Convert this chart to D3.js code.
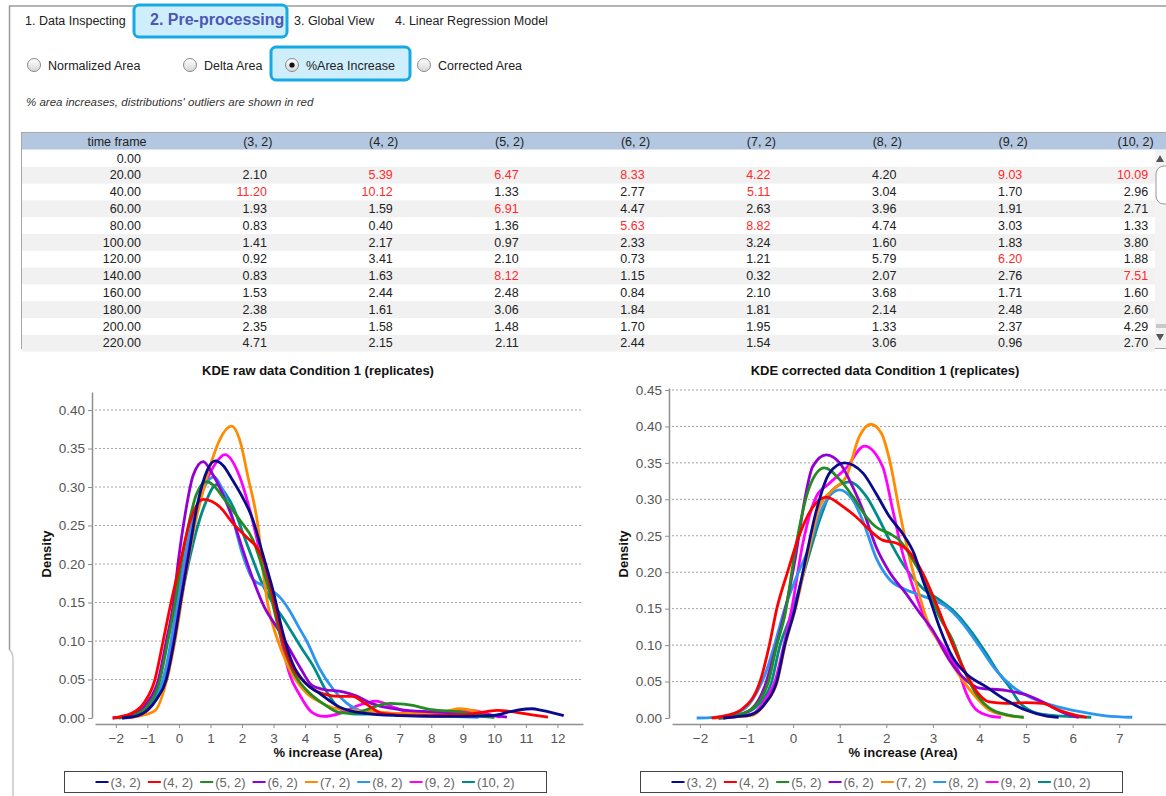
<!DOCTYPE html>
<html lang="en">
<head>
<meta charset="utf-8">
<title>KDE Condition 1 (replicates)</title>
<script src="https://d3js.org/d3.v7.min.js"></script>
<style>
  body { margin: 0; background: #fff; }
  text { font-family: "Liberation Sans", Arial, sans-serif; }
</style>
</head>
<body>
<script>

// ---- data ----

const tabLabels = ["1. Data Inspecting", "2. Pre-processing", "3. Global View", "4. Linear Regression Model"];
const radioLabels = ["Normalized Area", "Delta Area", "%Area Increase", "Corrected Area"];
const note = "% area increases, distributions' outliers are shown in red";

const replicates = ["(3, 2)", "(4, 2)", "(5, 2)", "(6, 2)", "(7, 2)", "(8, 2)", "(9, 2)", "(10, 2)"];
const timeFrames = ["0.00", "20.00", "40.00", "60.00", "80.00", "100.00", "120.00", "140.00", "160.00", "180.00", "200.00", "220.00"];

const col_3_2  = ["", "2.10", "11.20", "1.93", "0.83", "1.41", "0.92", "0.83", "1.53", "2.38", "2.35", "4.71"];
const col_4_2  = ["", "5.39", "10.12", "1.59", "0.40", "2.17", "3.41", "1.63", "2.44", "1.61", "1.58", "2.15"];
const col_5_2  = ["", "6.47", "1.33", "6.91", "1.36", "0.97", "2.10", "8.12", "2.48", "3.06", "1.48", "2.11"];
const col_6_2  = ["", "8.33", "2.77", "4.47", "5.63", "2.33", "0.73", "1.15", "0.84", "1.84", "1.70", "2.44"];
const col_7_2  = ["", "4.22", "5.11", "2.63", "8.82", "3.24", "1.21", "0.32", "2.10", "1.81", "1.95", "1.54"];
const col_8_2  = ["", "4.20", "3.04", "3.96", "4.74", "1.60", "5.79", "2.07", "3.68", "2.14", "1.33", "3.06"];
const col_9_2  = ["", "9.03", "1.70", "1.91", "3.03", "1.83", "6.20", "2.76", "1.71", "2.48", "2.37", "0.96"];
const col_10_2 = ["", "10.09", "2.96", "2.71", "1.33", "3.80", "1.88", "7.51", "1.60", "2.60", "4.29", "2.70"];
// [column, row] of the cells shown in red
const outlierCells = [[0,2],[1,1],[1,2],[2,1],[2,3],[2,7],[3,1],[3,4],[4,1],[4,2],[4,4],[6,1],[6,6],[7,1],[7,7]];

// KDE curves: [% increase, density]
const raw_3_2 = [[-1.8,0],[-1.3,0.003],[-1,0.01],[-0.7,0.025],[-0.4,0.05],[-0.15,0.1],[0.05,0.15],[0.3,0.21],[0.6,0.28],[0.9,0.322],[1.15,0.334],[1.4,0.328],[1.7,0.309],[2.0,0.288],[2.35,0.257],[2.65,0.214],[3.0,0.163],[3.3,0.11],[3.6,0.071],[4.0,0.046],[4.46,0.032],[5.1,0.014],[5.9,0.006],[7,0.003],[8,0.002],[9,0.002],[9.9,0.003],[10.7,0.01],[11.2,0.012],[11.5,0.01],[12.2,0.003]];
const raw_4_2 = [[-2.1,0],[-1.5,0.006],[-1.1,0.02],[-0.76,0.05],[-0.5,0.1],[-0.25,0.15],[0.03,0.2],[0.35,0.255],[0.77,0.284],[1.3,0.274],[1.71,0.253],[2.14,0.235],[2.46,0.222],[2.72,0.2],[2.98,0.157],[3.3,0.1],[3.6,0.065],[3.9,0.05],[4.3,0.036],[4.7,0.03],[5.1,0.028],[5.5,0.028],[5.9,0.019],[6.45,0.006],[7.5,0.003],[8.9,0.004],[9.7,0.008],[10.1,0.01],[10.6,0.008],[11.2,0.004],[11.7,0.001]];
const raw_5_2 = [[-1.9,0],[-1.4,0.004],[-1,0.015],[-0.6,0.05],[-0.35,0.1],[-0.12,0.15],[0.07,0.2],[0.3,0.25],[0.55,0.29],[0.88,0.307],[1.1,0.302],[1.39,0.287],[1.93,0.257],[2.35,0.231],[2.67,0.192],[2.9,0.16],[3.2,0.11],[3.6,0.062],[4.05,0.036],[4.56,0.019],[5.1,0.007],[5.5,0.006],[5.9,0.01],[6.3,0.016],[6.7,0.019],[7.3,0.017],[8.0,0.011],[8.9,0.008],[9.5,0.004],[10.0,0.001]];
const raw_6_2 = [[-2.1,0],[-1.5,0.004],[-1,0.02],[-0.65,0.05],[-0.4,0.1],[-0.17,0.15],[-0.03,0.2],[0.2,0.265],[0.45,0.315],[0.77,0.333],[1.05,0.318],[1.4,0.29],[1.72,0.257],[2.03,0.218],[2.35,0.18],[2.72,0.143],[3.1,0.118],[3.5,0.09],[3.85,0.065],[4.2,0.043],[4.6,0.037],[5.2,0.034],[5.6,0.029],[6.1,0.019],[7,0.011],[8,0.008],[9,0.006],[10,0.003],[10.4,0.001]];
const raw_7_2 = [[-1.7,0],[-1.2,0.003],[-0.75,0.01],[-0.38,0.05],[-0.06,0.115],[0.19,0.18],[0.5,0.25],[0.8,0.3],[1.05,0.335],[1.3,0.362],[1.67,0.379],[1.95,0.358],[2.19,0.313],[2.51,0.248],[2.67,0.19],[2.83,0.145],[3.1,0.105],[3.42,0.071],[4.05,0.032],[4.5,0.02],[4.9,0.013],[5.5,0.01],[6,0.009],[7,0.006],[8,0.006],[8.5,0.009],[8.9,0.012],[9.3,0.01],[9.9,0.002]];
const raw_8_2 = [[-2,0],[-1.5,0.004],[-1,0.015],[-0.5,0.05],[-0.25,0.1],[-0.05,0.15],[0.15,0.2],[0.4,0.25],[0.7,0.29],[1.1,0.313],[1.4,0.295],[1.7,0.26],[2.0,0.215],[2.35,0.18],[2.77,0.17],[3.2,0.157],[3.5,0.14],[3.8,0.118],[4.05,0.1],[4.46,0.064],[4.88,0.038],[5.3,0.02],[5.8,0.009],[6.3,0.006],[6.8,0.006],[7.5,0.003],[8.5,0.002],[9.5,0.001]];
const raw_9_2 = [[-1.6,0],[-1,0.01],[-0.5,0.05],[-0.2,0.1],[0,0.15],[0.2,0.2],[0.45,0.25],[0.8,0.3],[1.15,0.33],[1.46,0.342],[1.93,0.313],[2.25,0.27],[2.56,0.218],[2.98,0.157],[3.25,0.1],[3.5,0.058],[3.83,0.03],[4.2,0.008],[4.6,0.002],[5.1,0.006],[5.6,0.015],[6.25,0.022],[6.8,0.014],[7.5,0.006],[8.6,0.008],[9.3,0.01],[9.7,0.006],[10.2,0.001]];
const raw_10_2 = [[-1.8,0],[-1.3,0.004],[-1,0.01],[-0.45,0.05],[-0.15,0.1],[0.05,0.15],[0.3,0.2],[0.6,0.25],[0.85,0.28],[1.19,0.303],[1.5,0.29],[1.72,0.274],[2.03,0.24],[2.35,0.205],[2.67,0.172],[3.0,0.148],[3.3,0.13],[3.6,0.11],[3.9,0.09],[4.25,0.068],[4.67,0.035],[5.1,0.012],[5.6,0.005],[6.5,0.005],[7.5,0.004],[9,0.003],[10,0.001]];

// KDE curves
const cor_3_2 = [[-1.5,0],[-1.2,0.002],[-0.93,0.004],[-0.6,0.02],[-0.35,0.05],[-0.18,0.1],[0.04,0.15],[0.21,0.2],[0.5,0.285],[0.78,0.336],[1.1,0.35],[1.5,0.336],[1.78,0.308],[2.07,0.276],[2.35,0.253],[2.6,0.225],[2.78,0.19],[2.92,0.166],[3.14,0.125],[3.42,0.084],[3.71,0.061],[4.14,0.043],[4.56,0.025],[4.99,0.011],[5.42,0.003],[5.7,0.001]];
const cor_4_2 = [[-1.75,0],[-1.4,0.004],[-1.1,0.012],[-0.71,0.05],[-0.51,0.1],[-0.35,0.15],[-0.12,0.2],[0.1,0.245],[0.43,0.29],[0.71,0.303],[1.07,0.29],[1.35,0.276],[1.64,0.258],[1.92,0.244],[2.21,0.24],[2.49,0.228],[2.78,0.199],[3.07,0.157],[3.35,0.112],[3.64,0.07],[3.92,0.038],[4.21,0.022],[4.56,0.02],[4.99,0.021],[5.35,0.02],[5.7,0.011],[6.06,0.004],[6.3,0.001]];
const cor_5_2 = [[-1.6,0],[-1.2,0.004],[-0.9,0.012],[-0.53,0.05],[-0.35,0.1],[-0.18,0.14],[0.07,0.24],[0.35,0.317],[0.67,0.343],[1.0,0.327],[1.28,0.304],[1.57,0.276],[1.78,0.262],[2.07,0.253],[2.28,0.244],[2.57,0.217],[2.85,0.185],[3.14,0.139],[3.42,0.107],[3.64,0.07],[3.92,0.034],[4.28,0.011],[4.71,0.003],[4.95,0.001]];
const cor_6_2 = [[-1.6,0],[-1.2,0.004],[-0.9,0.012],[-0.6,0.045],[-0.4,0.09],[-0.2,0.14],[0.05,0.22],[0.25,0.3],[0.42,0.345],[0.71,0.361],[1.0,0.35],[1.28,0.317],[1.5,0.285],[1.78,0.235],[2.07,0.2],[2.42,0.171],[2.71,0.145],[2.99,0.121],[3.35,0.08],[3.71,0.052],[4.0,0.041],[4.56,0.038],[4.99,0.032],[5.42,0.02],[5.85,0.006],[6.13,0.001]];
const cor_7_2 = [[-1.7,0],[-1.2,0.002],[-0.86,0.004],[-0.6,0.02],[-0.34,0.05],[-0.17,0.1],[0.05,0.15],[0.3,0.22],[0.57,0.29],[0.85,0.313],[1.14,0.331],[1.42,0.386],[1.67,0.403],[1.9,0.39],[2.07,0.354],[2.28,0.285],[2.49,0.222],[2.64,0.185],[2.85,0.139],[3.14,0.102],[3.49,0.066],[3.85,0.034],[4.21,0.011],[4.56,0.004],[4.95,0.001]];
const cor_8_2 = [[-2.07,0],[-1.7,0.001],[-1.36,0.004],[-1.0,0.015],[-0.79,0.034],[-0.6,0.06],[-0.4,0.1],[-0.18,0.15],[0.05,0.19],[0.35,0.235],[0.64,0.29],[1.0,0.313],[1.28,0.299],[1.5,0.27],[1.78,0.22],[2.07,0.19],[2.42,0.176],[2.71,0.169],[2.92,0.164],[3.28,0.153],[3.64,0.13],[4.0,0.098],[4.35,0.066],[4.71,0.043],[5.21,0.025],[5.64,0.016],[6.13,0.009],[6.71,0.003],[7.28,0.001]];
const cor_9_2 = [[-1.6,0],[-1.2,0.002],[-0.86,0.006],[-0.6,0.025],[-0.39,0.05],[-0.2,0.1],[-0.03,0.15],[0.21,0.24],[0.5,0.304],[0.78,0.322],[1.14,0.343],[1.53,0.373],[1.92,0.345],[2.14,0.285],[2.35,0.226],[2.6,0.175],[2.85,0.134],[3.28,0.093],[3.57,0.061],[3.71,0.035],[3.92,0.012],[4.21,0.003],[4.46,0.001]];
const cor_10_2 = [[-1.5,0],[-1.1,0.005],[-0.75,0.018],[-0.46,0.05],[-0.28,0.1],[-0.05,0.14],[0.28,0.21],[0.57,0.272],[0.85,0.313],[1.21,0.324],[1.57,0.304],[1.85,0.272],[2.14,0.235],[2.42,0.205],[2.78,0.178],[3.14,0.162],[3.49,0.144],[3.85,0.116],[4.14,0.089],[4.42,0.061],[4.64,0.043],[4.85,0.022],[5.13,0.009],[5.5,0.004],[6.0,0.002],[6.4,0.001]];

const rawTicksY = [0, 0.05, 0.10, 0.15, 0.20, 0.25, 0.30, 0.35, 0.40];
const corTicksY = [0, 0.05, 0.10, 0.15, 0.20, 0.25, 0.30, 0.35, 0.40, 0.45];
const rawTicksX = [-2, -1, 0, 1, 2, 3, 4, 5, 6, 7, 8, 9, 10, 11, 12];
const corTicksX = [-2, -1, 0, 1, 2, 3, 4, 5, 6, 7];

const colors = ["#0a0a8c", "#ff0000", "#228b22", "#9400d3", "#ff8c00", "#2b95f0", "#ff00ff", "#008b8b"];

// ---- page ----

const svg = d3.select("body").append("svg")
    .attr("width", 1166)
    .attr("height", 796);

const defs = svg.append("defs");
const grad = defs.append("linearGradient").attr("id", "radioFill")
    .attr("x1", 0).attr("y1", 0).attr("x2", 0).attr("y2", 1);
grad.append("stop").attr("offset", "0%").attr("stop-color", "#ffffff");
grad.append("stop").attr("offset", "100%").attr("stop-color", "#d6d6d6");

// panel border
svg.append("path")
    .attr("d", "M9.5,650 V6 H1166")
    .attr("fill", "none")
    .attr("stroke", "#9c9c9c")
    .attr("stroke-width", 1.5);
svg.append("path")
    .attr("d", "M9.5,650 Q13,652 13,660 V796")
    .attr("fill", "none")
    .attr("stroke", "#c8c8c8")
    .attr("stroke-width", 1.5);

// highlighted boxes (selected tab, selected radio)
function highlight(x, y, w, h) {
  svg.append("rect")
      .attr("x", x).attr("y", y).attr("width", w).attr("height", h)
      .attr("rx", 5)
      .attr("fill", "#cfeefb")
      .attr("stroke", "#16a9e6")
      .attr("stroke-width", 3);
}
highlight(134, 5, 153, 32);
highlight(271, 47, 139, 33);

// tabs
const tabX = [25, 150, 294, 395];
tabLabels.forEach((t, i) => {
  svg.append("text")
      .attr("x", tabX[i])
      .attr("y", 25)
      .attr("font-size", i == 1 ? 16 : 12.5)
      .attr("font-weight", i == 1 ? "bold" : "normal")
      .attr("fill", i == 1 ? "#4b57b4" : "#222")
      .text(t);
});

// radio buttons
const radioX = [34, 190, 292, 424];
radioLabels.forEach((t, i) => {
  svg.append("circle")
      .attr("cx", radioX[i]).attr("cy", 65).attr("r", 6.5)
      .attr("fill", "url(#radioFill)")
      .attr("stroke", "#8a8a8a");
  if (i == 2) {
    svg.append("circle")
        .attr("cx", radioX[i]).attr("cy", 65).attr("r", 2.6)
        .attr("fill", "#111");
  }
  svg.append("text")
      .attr("x", radioX[i] + 14)
      .attr("y", 69.5)
      .attr("font-size", 12.5)
      .attr("fill", "#222")
      .text(t);
});

svg.append("text")
    .attr("x", 26)
    .attr("y", 106)
    .attr("font-size", 11.5)
    .attr("font-style", "italic")
    .attr("fill", "#333")
    .text(note);

// ---- table ----

const columns = [col_3_2, col_4_2, col_5_2, col_6_2, col_7_2, col_8_2, col_9_2, col_10_2];
const rowTop = 150, rowH = 16.8;
const valueRight = d3.range(9).map(i => 141 + 125.9 * i);

const table = svg.append("g");
table.append("rect")
    .attr("x", 21.5).attr("y", 132.5).attr("width", 1150).attr("height", 216)
    .attr("fill", "#fff")
    .attr("stroke", "#a8a8a8");
table.append("rect")
    .attr("x", 22).attr("y", 133).attr("width", 1144).attr("height", 16.5)
    .attr("fill", "#b4c7e0");

timeFrames.forEach((t, r) => {
  if (r % 2 == 1) {
    table.append("rect")
        .attr("x", 22).attr("y", rowTop + r * rowH).attr("width", 1133).attr("height", rowH)
        .attr("fill", "#f1f1f1");
  }
});

// header
["time frame"].concat(replicates).forEach((h, i) => {
  table.append("text")
      .attr("x", valueRight[i] + 5.5)
      .attr("y", 146)
      .attr("text-anchor", "end")
      .attr("font-size", 12.5)
      .attr("fill", "#222")
      .text(h);
});

const isOutlier = (c, r) => outlierCells.some(d => d[0] == c && d[1] == r);

timeFrames.forEach((t, r) => {
  const y = rowTop + r * rowH + 12.5;
  table.append("text")
      .attr("x", valueRight[0]).attr("y", y)
      .attr("text-anchor", "end")
      .attr("font-size", 12.5)
      .attr("fill", "#222")
      .text(t);
  columns.forEach((col, c) => {
    table.append("text")
        .attr("x", valueRight[c + 1]).attr("y", y)
        .attr("text-anchor", "end")
        .attr("font-size", 12.5)
        .attr("fill", isOutlier(c, r) ? "#ff2a2a" : "#222")
        .text(col[r]);
  });
});

// scrollbar
table.append("rect")
    .attr("x", 1155).attr("y", 150).attr("width", 11).attr("height", 198)
    .attr("fill", "#f3f3f3");
table.append("path").attr("d", "M1156,162 L1160,155 L1164,162 Z").attr("fill", "#555");
table.append("path").attr("d", "M1156,334 L1160,341 L1164,334 Z").attr("fill", "#555");
table.append("rect")
    .attr("x", 1156).attr("y", 166).attr("width", 18).attr("height", 38).attr("rx", 8)
    .attr("fill", "#fff")
    .attr("stroke", "#9a9a9a");
table.append("rect")
    .attr("x", 1156).attr("y", 324).attr("width", 12).attr("height", 4)
    .attr("fill", "#c8c8c8");

// ---- KDE charts ----

function kdeChart(o) {
  const g = svg.append("g");

  const x = d3.scaleLinear().domain(o.xDomain).range(o.xRange);
  const y = d3.scaleLinear().domain(o.yDomain).range(o.yRange);

  // dotted grid
  g.selectAll("line.grid")
    .data(o.ticksY.filter(d => d > 0))
    .enter().append("line")
      .attr("x1", o.xRange[0]).attr("x2", o.xRange[1])
      .attr("y1", d => y(d)).attr("y2", d => y(d))
      .attr("stroke", "#a0a0a0")
      .attr("stroke-width", 1)
      .attr("stroke-dasharray", "2,2");

  const yAxis = g.append("g")
      .attr("transform", `translate(${o.yAxisX},0)`)
      .call(d3.axisLeft(y).tickValues(o.ticksY).tickFormat(d3.format(".2f"))
        .tickSizeInner(4).tickSizeOuter(0).tickPadding(3));

  const xAxis = g.append("g")
      .attr("transform", `translate(0,${o.xAxisY})`)
      .call(d3.axisBottom(x).tickValues(o.ticksX).tickFormat(d3.format("d"))
        .tickSizeInner(4).tickSizeOuter(0).tickPadding(5));

  [yAxis, xAxis].forEach(a => {
    a.select(".domain").attr("stroke", "#8f8f8f").attr("stroke-width", 1.5);
    a.selectAll(".tick line").attr("stroke", "#8f8f8f");
    a.selectAll(".tick text")
        .attr("fill", "#555")
        .attr("font-size", 13.5)
        .attr("font-family", "'Liberation Sans', Arial, sans-serif");
  });

  const line = d3.line()
      .x(d => x(d[0]))
      .y(d => y(d[1]))
      .curve(d3.curveMonotoneX);

  // first series is drawn last, on top
  const order = d3.range(o.series.length).reverse();
  g.selectAll("path.kde")
    .data(order)
    .enter().append("path")
      .attr("class", "kde")
      .attr("d", i => line(o.series[i]))
      .attr("fill", "none")
      .attr("stroke", i => colors[i])
      .attr("stroke-width", 2.8)
      .attr("stroke-linejoin", "round");

  g.append("text")
      .attr("x", o.titleX).attr("y", 375)
      .attr("text-anchor", "middle")
      .attr("font-size", 13)
      .attr("font-weight", "bold")
      .attr("fill", "#111")
      .text(o.title);

  g.append("text")
      .attr("transform", `translate(${o.densityX},554) rotate(-90)`)
      .attr("text-anchor", "middle")
      .attr("font-size", 13)
      .attr("font-weight", "bold")
      .attr("fill", "#111")
      .text("Density");

  g.append("text")
      .attr("x", o.xLabelX).attr("y", 757)
      .attr("text-anchor", "middle")
      .attr("font-size", 13)
      .attr("font-weight", "bold")
      .attr("fill", "#111")
      .text("% increase (Area)");

  // legend
  const lg = g.append("g");
  lg.append("rect")
      .attr("x", o.legend[0] + 0.5).attr("y", 771.5)
      .attr("width", o.legend[1] - o.legend[0]).attr("height", 21)
      .attr("fill", "#fff")
      .attr("stroke", "#444");
  const items = lg.append("g");
  let cx = 0;
  replicates.forEach((r, i) => {
    items.append("line")
        .attr("x1", cx).attr("x2", cx + 13)
        .attr("y1", 782).attr("y2", 782)
        .attr("stroke", colors[i])
        .attr("stroke-width", 2);
    const t = items.append("text")
        .attr("x", cx + 15).attr("y", 786.5)
        .attr("font-size", 13)
        .attr("fill", "#666")
        .text(r);
    cx += 15 + t.node().getComputedTextLength() + 7;
  });
  const total = cx - 7;
  items.attr("transform", `translate(${(o.legend[0] + o.legend[1]) / 2 - total / 2},0)`);
}

kdeChart({
  title: "KDE raw data Condition 1 (replicates)",
  series: [raw_3_2, raw_4_2, raw_5_2, raw_6_2, raw_7_2, raw_8_2, raw_9_2, raw_10_2],
  xDomain: [-2.66, 12.81], xRange: [95, 583],
  yDomain: [0, 0.4234], yRange: [718, 392],
  ticksX: rawTicksX, ticksY: rawTicksY,
  yAxisX: 92, xAxisY: 724,
  titleX: 318, densityX: 51, xLabelX: 328,
  legend: [64, 546]
});

kdeChart({
  title: "KDE corrected data Condition 1 (replicates)",
  series: [cor_3_2, cor_4_2, cor_5_2, cor_6_2, cor_7_2, cor_8_2, cor_9_2, cor_10_2],
  xDomain: [-2.6, 8.09], xRange: [672, 1170],
  yDomain: [0, 0.4527], yRange: [718, 388],
  ticksX: corTicksX, ticksY: corTicksY,
  yAxisX: 669, xAxisY: 724,
  titleX: 885, densityX: 628, xLabelX: 903,
  legend: [640, 1122]
});

</script>
</body>
</html>
